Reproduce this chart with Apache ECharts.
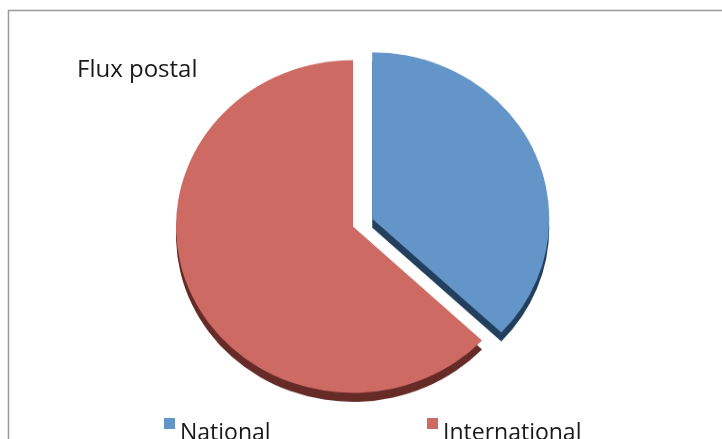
<!DOCTYPE html>
<html>
<head>
<meta charset="utf-8">
<title>Flux postal</title>
<script src="https://cdn.jsdelivr.net/npm/echarts@6/dist/echarts.min.js"></script>
<style>
  html, body { margin: 0; padding: 0; background: #ffffff; }
  #wrap { position: relative; width: 722px; height: 439px; overflow: hidden; }
  #chart, #pie { position: absolute; left: 0; top: 0; width: 722px; height: 439px; }
  /* the pie is seen slightly from above: squash it vertically around its centre */
  #pie { transform: scaleY(0.94); transform-origin: 353px 226.5px; }
</style>
</head>
<body>
<div id="wrap">
  <div id="chart"></div>
  <div id="pie"></div>
</div>
<script>
// Parts of the postal flow
const categories = ['National', 'International'];
const values = [37, 63];
const faceColors = ['#6495c9', '#cd6a63'];
const sideColors = ['#233f5e', '#662a27'];
const titleText = 'Flux postal';

const FONT = '"Open Sans", "Noto Sans", sans-serif';
const center = [353, 226.5];
const radius = 177;
const explode = 21;
const depth = 9.5;

function items(colors) {
  return categories.map((name, i) => ({
    name: name,
    value: values[i],
    selected: i === 0,
    itemStyle: { color: colors[i] }
  }));
}

// Legend entry: the swatch sits level with the top of the letters,
// so an empty spacer line above the name pushes the text down.
function legendAt(idx, left) {
  return {
    left: left,
    top: 408,
    padding: 0,
    itemWidth: 11,
    itemHeight: 11,
    icon: 'rect',
    selectedMode: false,
    formatter: name => '{s| }\n{t|' + name + '}',
    textStyle: {
      fontFamily: FONT,
      color: '#1a1a1a',
      rich: {
        s: { fontSize: 1, lineHeight: 20 },
        t: { fontFamily: FONT, fontSize: 23, lineHeight: 30, color: '#1a1a1a' }
      }
    },
    data: [{ name: categories[idx], itemStyle: { color: faceColors[idx], opacity: 1 } }]
  };
}

function pieLayer(name, colors, cy, z) {
  return {
    type: 'pie',
    name: name,
    z: z,
    silent: true,
    center: [center[0], cy],
    radius: radius,
    startAngle: 90,
    clockwise: true,
    selectedMode: 'single',
    selectedOffset: explode,
    label: { show: false },
    labelLine: { show: false },
    emphasis: { disabled: true },
    itemStyle: { borderWidth: 0 },
    data: items(colors)
  };
}

// Frame, title and legend
const chart = echarts.init(document.getElementById('chart'), null, { renderer: 'canvas' });
chart.setOption({
  backgroundColor: '#ffffff',
  animation: false,
  title: {
    text: titleText,
    left: 77,
    top: 58,
    padding: 0,
    textStyle: { fontFamily: FONT, fontSize: 24, fontWeight: 'normal', color: '#1a1a1a' }
  },
  legend: [legendAt(0, 164), legendAt(1, 427)],
  series: [
    // zero-size copy that gives the legend its entries
    Object.assign(pieLayer('legendref', faceColors, center[1], 0), { radius: 0 })
  ],
  graphic: [{
    type: 'rect',
    silent: true,
    z: 100,
    shape: { x: 8.5, y: 10.5, width: 760, height: 480 },
    style: { fill: 'none', stroke: '#9a9a9a', lineWidth: 1.5 }
  }]
});

// The pie itself: top face plus a darker copy shifted down as the side wall
const pie = echarts.init(document.getElementById('pie'), null, { renderer: 'canvas' });
pie.setOption({
  backgroundColor: 'transparent',
  animation: false,
  series: [
    pieLayer('face', faceColors, center[1], 3),
    pieLayer('side', sideColors, center[1] + depth, 2)
  ]
});
</script>
</body>
</html>
